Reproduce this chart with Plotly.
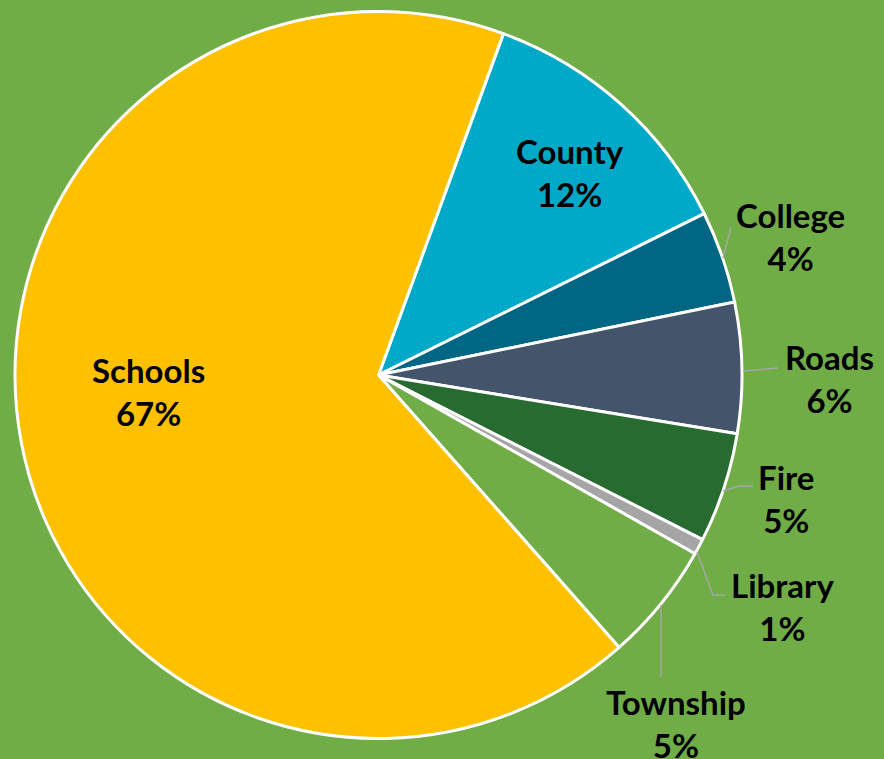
import plotly.graph_objects as go

# ---- data ----
labels = ["County", "College", "Roads", "Fire", "Library", "Township", "Schools"]
values = [12.1, 4.1, 5.8, 4.9, 0.7, 5.3, 67.1]
colors = ["#00A9C7", "#006684", "#44546A", "#286B31", "#A5A5A5", "#70AD47", "#FFC000"]

W, H = 884, 759
BG = "#70AD47"

# pie geometry (pixels)
cx, cy, r = 378.5, 375.0, 363.5

def px(x):
    return x / W

def py(y):
    return 1 - y / H

fig = go.Figure(
    go.Pie(
        labels=labels,
        values=values,
        sort=False,
        direction="clockwise",
        rotation=20.1,
        marker=dict(colors=colors, line=dict(color="white", width=3)),
        textinfo="none",
        hoverinfo="label+percent",
        showlegend=False,
        domain=dict(x=[px(cx - r), px(cx + r)], y=[py(cy + r), py(cy - r)]),
    )
)

total = sum(values)
pct = {l: f"{round(v / total * 100)}%" for l, v in zip(labels, values)}

# label centres (pixels)
label_pos = {
    "County": (570, 172),
    "Schools": (148, 391),
    "College": (790, 237),
    "Roads": (829, 378),
    "Fire": (786, 498),
    "Library": (782, 606),
    "Township": (676, 723),
}

for name, (x, y) in label_pos.items():
    fig.add_annotation(
        x=px(x), y=py(y), xref="paper", yref="paper",
        text=f"<b>{name}<br>{pct[name]}</b>",
        showarrow=False, xanchor="center", yanchor="middle",
        font=dict(family="Lato", size=33, color="black"),
    )

# leader lines (pixel paths)
leaders = [
    [(723, 258), (731, 227)],
    [(743, 371), (778, 368)],
    [(723, 491), (740, 486), (753, 486)],
    [(697, 552), (713, 595), (725, 595)],
    [(661, 605), (661, 677)],
]
for pts in leaders:
    path = "M " + " L ".join(f"{px(x)},{py(y)}" for x, y in pts)
    fig.add_shape(type="path", path=path, xref="paper", yref="paper",
                  line=dict(color="#A6A6A6", width=1.5))

fig.update_layout(
    width=W, height=H,
    margin=dict(l=0, r=0, t=0, b=0),
    paper_bgcolor=BG, plot_bgcolor=BG,
)

fig.write_html(
    "out.html",
    config={"displayModeBar": False},
    post_script="document.body.style.margin='0';document.body.style.overflow='hidden';",
)
